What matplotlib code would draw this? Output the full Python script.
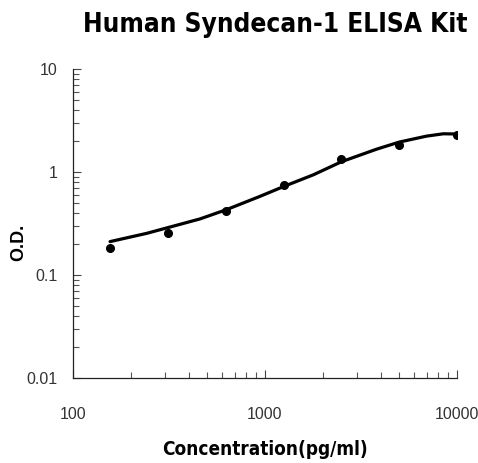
import matplotlib
matplotlib.use("Agg")
import matplotlib.pyplot as plt
from matplotlib.ticker import LogLocator, FixedLocator, NullFormatter

# Standard points
conc = [156.25, 312.5, 625, 1250, 2500, 5000, 10000]
od = [0.182, 0.255, 0.425, 0.746, 1.35, 1.85, 2.32]

# Fitted curve
curve_x = [156, 242, 310, 458, 631, 942, 1256, 1786, 2508, 3817, 5010, 6950, 8490, 10000]
curve_y = [0.212, 0.255, 0.289, 0.352, 0.434, 0.584, 0.730, 0.946, 1.27, 1.68, 1.97, 2.25, 2.37, 2.36]

x_ticks = [100, 1000, 10000]
x_labels = ["100", "1000", "10000"]
y_ticks = [0.01, 0.1, 1, 10]
y_labels = ["0.01", "0.1", "1", "10"]

title = "Human Syndecan-1 ELISA Kit"
xlabel = "Concentration(pg/ml)"
ylabel = "O.D."

fig = plt.figure(figsize=(4.78, 4.63), dpi=100)
ax = fig.add_axes([0.1527, 0.1836, 0.956 - 0.1527, 0.8499 - 0.1836])

ax.plot(curve_x, curve_y, color="black", lw=2.3, solid_capstyle="round")
ax.plot(conc, od, "o", color="black", ms=5.5)

ax.set_xscale("log")
ax.set_yscale("log")
ax.set_xlim(100, 10000)
ax.set_ylim(0.01, 10)

ax.xaxis.set_major_locator(FixedLocator(x_ticks))
ax.set_xticklabels(x_labels)
ax.yaxis.set_major_locator(FixedLocator(y_ticks))
ax.set_yticklabels(y_labels)
ax.xaxis.set_minor_locator(LogLocator(base=10, subs=range(2, 10)))
ax.yaxis.set_minor_locator(LogLocator(base=10, subs=range(2, 10)))
ax.xaxis.set_minor_formatter(NullFormatter())
ax.yaxis.set_minor_formatter(NullFormatter())

for s in ["top", "right"]:
    ax.spines[s].set_visible(False)
for s in ["left", "bottom"]:
    ax.spines[s].set_linewidth(0.9)
    ax.spines[s].set_color("#222222")

ax.tick_params(axis="both", which="major", direction="in", length=6, width=0.8, color="#444444",
               labelsize=11.5, labelcolor="#333333")
ax.tick_params(axis="both", which="minor", direction="in", length=4.5, width=0.8, color="#555555")
ax.tick_params(axis="x", which="major", pad=21)
ax.tick_params(axis="y", which="major", pad=11)
for lab in ax.get_xticklabels() + ax.get_yticklabels():
    lab.set_family(["Liberation Sans", "DejaVu Sans"])

fig.text(0.575, 0.931, title, ha="center", va="baseline", fontsize=18.8, fontweight="bold",
         family="DejaVu Sans", fontstretch="condensed")
ax.set_xlabel(xlabel, fontsize=13.6, fontweight="bold", family="DejaVu Sans", fontstretch="condensed")
ax.xaxis.set_label_coords(0.5, -0.2)
ax.set_ylabel(ylabel, fontsize=13, fontweight="bold", family=["Liberation Sans", "DejaVu Sans"])
ax.yaxis.set_label_coords(-0.12, 0.441)

fig.savefig("out.png", dpi=100)
